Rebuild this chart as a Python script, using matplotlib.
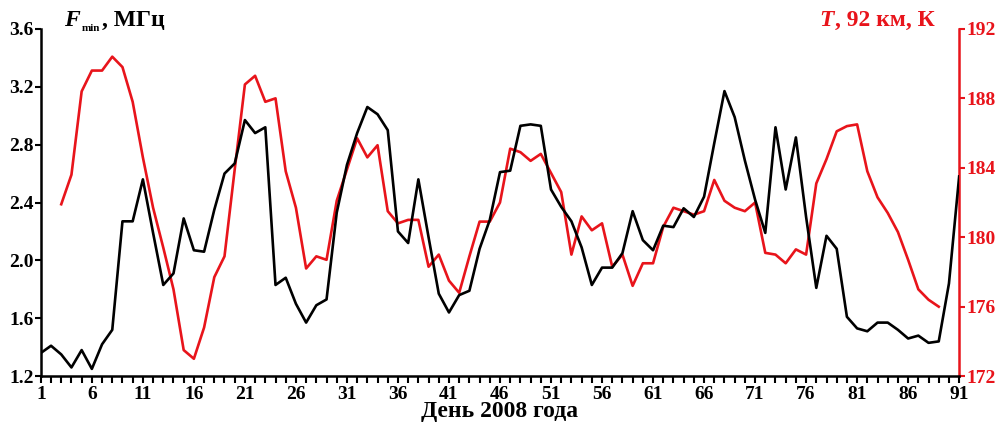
"""F_min and 92 km temperature, days 1-91 of 2008."""

import numpy as np
import matplotlib
matplotlib.use("Agg")
import matplotlib.pyplot as plt

plt.rcParams["font.family"] = ["Liberation Serif", "DejaVu Serif"]
plt.rcParams["font.weight"] = "bold"

# Black curve: F_min, MHz, days 1..91
f_days = np.arange(1, 92)
f_min = [
    1.36, 1.41, 1.35, 1.26, 1.38, 1.25, 1.42, 1.52, 2.27, 2.27,
    2.56, 2.19, 1.83, 1.91, 2.29, 2.07, 2.06, 2.35, 2.60, 2.67,
    2.97, 2.88, 2.92, 1.83, 1.88, 1.70, 1.57, 1.69, 1.73, 2.33,
    2.66, 2.88, 3.06, 3.01, 2.90, 2.20, 2.12, 2.56, 2.16, 1.77,
    1.64, 1.76, 1.79, 2.08, 2.28, 2.61, 2.62, 2.93, 2.94, 2.93,
    2.49, 2.37, 2.27, 2.09, 1.83, 1.95, 1.95, 2.05, 2.34, 2.14,
    2.07, 2.24, 2.23, 2.36, 2.30, 2.44, 2.81, 3.17, 2.99, 2.69,
    2.42, 2.19, 2.92, 2.49, 2.85, 2.30, 1.81, 2.17, 2.08, 1.61,
    1.53, 1.51, 1.57, 1.57, 1.52, 1.46, 1.48, 1.43, 1.44, 1.84,
    2.58,
]

# Red curve: temperature at 92 km, K, days 3..89
t_days = np.arange(3, 90)
t_92 = [
    181.9, 183.6, 188.4, 189.6, 189.6, 190.4, 189.8, 187.8, 184.6, 181.7,
    179.4, 177.0, 173.5, 173.0, 174.8, 177.7, 178.9, 183.9, 188.8, 189.3,
    187.8, 188.0, 183.8, 181.7, 178.2, 178.9, 178.7, 182.1, 183.9, 185.7,
    184.6, 185.3, 181.5, 180.8, 181.0, 181.0, 178.3, 179.0, 177.5, 176.8,
    178.9, 180.9, 180.9, 182.0, 185.1, 184.9, 184.4, 184.8, 183.7, 182.6,
    179.0, 181.2, 180.4, 180.8, 178.3, 179.0, 177.2, 178.5, 178.5, 180.6,
    181.7, 181.5, 181.3, 181.5, 183.3, 182.1, 181.7, 181.5, 182.0, 179.1,
    179.0, 178.5, 179.3, 179.0, 183.1, 184.5, 186.1, 186.4, 186.5, 183.8,
    182.3, 181.4, 180.3, 178.7, 177.0, 176.4, 176.0,
]

x_ticks = np.arange(1, 92, 5)
f_ticks = [1.2, 1.6, 2.0, 2.4, 2.8, 3.2, 3.6]
t_ticks = [172, 176, 180, 184, 188, 192]

RED = "#e8141b"

fig = plt.figure(figsize=(9.96, 4.25), dpi=100)
ax = fig.add_axes([0.041, 0.115, 0.922, 0.817])
ax2 = ax.twinx()

ax.plot(f_days, f_min, color="black", lw=1.9, zorder=3)
ax2.plot(t_days, t_92, color=RED, lw=1.9)
ax.set_zorder(ax2.get_zorder() + 1)
ax.patch.set_visible(False)

ax.set_xlim(1, 91)
ax.set_ylim(1.2, 3.6)
ax2.set_ylim(172, 192)

ax.set_xticks(x_ticks)
ax.set_xticks(np.arange(1, 92), minor=True)
ax.set_yticks(f_ticks)
ax.set_yticklabels([f"{v:.1f}" for v in f_ticks])
ax2.set_yticks(t_ticks)

ax.tick_params(axis="x", which="major", direction="out", length=5, width=1.5,
               labelsize=14, pad=2)
ax.tick_params(axis="x", which="minor", direction="out", length=5, width=1.5)
ax.tick_params(axis="y", direction="out", length=4, width=1.5, labelsize=14, pad=1)
ax2.tick_params(axis="y", direction="out", length=4, width=1.5, labelsize=14,
                pad=1, colors=RED)

for a in (ax, ax2):
    a.spines["top"].set_visible(False)
    for s in ("left", "bottom", "right"):
        a.spines[s].set_linewidth(1.8)
ax.spines["right"].set_visible(False)
ax2.spines["left"].set_visible(False)
ax2.spines["bottom"].set_visible(False)
ax2.spines["right"].set_color(RED)

ax.set_xlabel("День 2008 года", fontsize=17, fontweight="bold", labelpad=-1)

# axis titles, built from pieces so the italic letter and subscript fit
ty = 0.938
fig.text(0.064, ty, "F", fontsize=17, fontstyle="italic", fontweight="bold",
         va="baseline")
fig.text(0.082, ty - 0.012, "min", fontsize=8, fontweight="bold", va="baseline")
fig.text(0.102, ty, ", МГц", fontsize=17, fontweight="bold", va="baseline")

fig.text(0.823, ty, "T", fontsize=17, fontstyle="italic", fontweight="bold",
         color=RED, va="baseline")
fig.text(0.838, ty, ", 92 км, К", fontsize=17, fontweight="bold",
         color=RED, va="baseline")

fig.savefig("out.png", dpi=100)
